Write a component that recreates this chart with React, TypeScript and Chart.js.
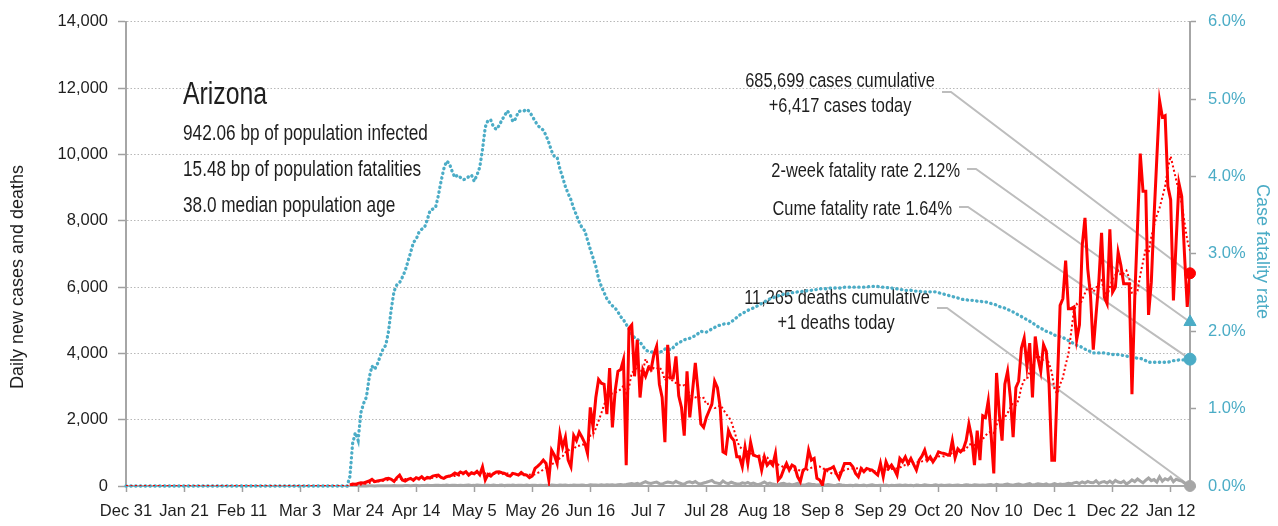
import React, { useEffect, useRef } from "react";
import { Chart, registerables } from "chart.js";

Chart.register(...registerables);

// Day numbering: day 0 = Dec 31, 2019
const TICK_LABELS = ["Dec 31", "Jan 21", "Feb 11", "Mar 3", "Mar 24", "Apr 14", "May 5", "May 26", "Jun 16", "Jul 7", "Jul 28", "Aug 18", "Sep 8", "Sep 29", "Oct 20", "Nov 10", "Dec 1", "Dec 22", "Jan 12"];
const TICK_STEP_DAYS = 21;
const FIRST_DAY = 0;
const LAST_DAY = 385;

const CASES_START_DAY = 81;
const DAILY_CASES = [
  30, 60, 50, 80, 100, 90, 120, 150, 200, 130,
  150, 170, 180, 220, 230, 200, 140, 250, 330, 180,
  150, 200, 230, 170, 250, 220, 280, 200, 260, 240,
  300, 320, 330, 260, 230, 280, 300, 330, 390, 350,
  420, 380, 430, 330, 400, 370, 440, 340, 580, 180,
  350, 300, 380, 420, 430, 400, 380, 320, 300, 380,
  360, 330, 410, 340, 330, 250, 300, 530, 600, 680,
  780, 680, 180, 1080, 930, 680, 1570, 1170, 1470, 780,
  580, 1520, 1370, 1620, 1470, 1300, 980, 2370, 1770, 2670,
  3210, 3100, 3070, 2170, 3560, 1770, 2870, 3460, 3510, 3810,
  630, 4760, 4860, 3310, 4410, 2670, 3510, 3310, 3560, 3510,
  3960, 4210, 3070, 2670, 1320, 4260, 3260, 3260, 3910, 2720,
  2370, 1520, 3460, 2070, 2870, 3710, 2870, 1870, 1770, 2070,
  2270, 2470, 3160, 2970, 2370, 1030, 980, 1670, 1470, 1370,
  880, 880, 580, 1170, 680, 1320, 930, 900, 880, 480,
  880, 630, 730, 630, 980, 180, 280, 500, 680, 480,
  630, 580, 280, 130, 480, 530, 1080, 780, 830, 230,
  180, 30, 480, 500, 530, 580, 380, 230, 450, 680,
  680, 680, 580, 380, 280, 530, 430, 530, 500, 480,
  400, 330, 680, 280, 730, 530, 630, 500, 330, 830,
  730, 880, 680, 830, 650, 480, 780, 900, 1080, 780,
  880, 730, 850, 1030, 1000, 980, 950, 930, 1370, 850,
  1120, 1030, 1120, 1370, 1870, 1470, 630, 1670, 780, 2120,
  2070, 2570, 1570, 380, 3410, 2170, 1370, 3070, 3460, 2670,
  1470, 2970, 3160, 4160, 4460, 3610, 4310, 2670, 4510, 3860,
  3460, 4260, 4060, 3070, 780, 780, 3070, 5450, 5650, 6800,
  5350, 5350, 5400, 4410, 4860, 7250, 8090, 6550, 5750, 4110,
  5160, 6150, 7640, 5700, 5500, 7740, 5850, 6000, 7050, 6650,
  6100, 6100, 6100, 2770, 5650, 7800, 10030, 8890, 8890, 5160,
  6150, 8140, 9900, 11620, 11130, 11170, 9040, 8640, 5600, 7400,
  9130, 8740, 7000, 5400, 6417,
];

const CASES_7DAY_AVG = [
  4, 13, 20, 31, 46, 59, 76, 93, 113, 124,
  134, 144, 157, 171, 183, 183, 184, 199, 221, 221,
  211, 207, 211, 216, 216, 200, 214, 221, 230, 231,
  250, 260, 276, 273, 277, 280, 289, 293, 303, 306,
  329, 350, 371, 376, 386, 383, 396, 384, 413, 377,
  380, 366, 367, 364, 377, 351, 380, 376, 376, 376,
  367, 353, 354, 349, 350, 343, 331, 356, 394, 433,
  496, 546, 536, 647, 704, 716, 843, 899, 1011, 1097,
  1026, 1110, 1209, 1216, 1259, 1234, 1263, 1519, 1554, 1740,
  1967, 2200, 2453, 2623, 2793, 2793, 2821, 2857, 2916, 3021,
  2801, 2973, 3414, 3477, 3613, 3493, 3450, 3833, 3661, 3469,
  3561, 3533, 3590, 3470, 3186, 3286, 3250, 3150, 3107, 3057,
  3014, 3043, 2929, 2759, 2703, 2674, 2696, 2624, 2660, 2461,
  2490, 2433, 2354, 2369, 2440, 2334, 2179, 2093, 1950, 1694,
  1396, 1183, 1119, 1146, 1004, 983, 920, 923, 923, 909,
  867, 860, 776, 733, 744, 644, 616, 561, 569, 533,
  533, 476, 490, 469, 466, 444, 530, 551, 587, 580,
  587, 523, 516, 433, 397, 361, 383, 390, 450, 479,
  504, 526, 526, 526, 533, 544, 509, 487, 461, 447,
  450, 457, 479, 457, 486, 490, 511, 526, 526, 547,
  611, 633, 654, 683, 704, 726, 719, 743, 771, 786,
  793, 804, 857, 893, 907, 893, 917, 924, 1016, 1016,
  1029, 1033, 1053, 1113, 1247, 1261, 1230, 1309, 1273, 1416,
  1516, 1616, 1630, 1594, 1843, 2041, 1934, 2077, 2204, 2361,
  2517, 2454, 2596, 2994, 3193, 3214, 3449, 3620, 3840, 3940,
  3840, 3811, 3876, 3699, 3429, 2896, 2783, 3067, 3266, 3657,
  3983, 4636, 5296, 5487, 5403, 5631, 5816, 5987, 6044, 5860,
  5967, 6151, 6207, 5866, 5716, 6000, 6249, 6369, 6497, 6356,
  6413, 6499, 6264, 5824, 5774, 5881, 6364, 6763, 7161, 7027,
  7510, 7866, 8166, 8393, 8713, 9039, 9593, 9949, 9586, 9229,
  8873, 8534, 7943, 7423, 7105,
];

const DEATHS_START_DAY = 84;
const DAILY_DEATHS = [
  2, 3, 4, 2, 5, 6, 3, 7, 8, 5,
  10, 6, 8, 12, 9, 7, 10, 12, 15, 9,
  14, 20, 11, 16, 18, 22, 13, 17, 25, 20,
  15, 19, 28, 14, 21, 24, 18, 26, 13, 22,
  30, 17, 19, 27, 23, 16, 20, 25, 14, 29,
  18, 22, 31, 12, 24, 19, 27, 15, 21, 26,
  18, 30, 16, 23, 20, 14, 25, 18, 22, 12,
  28, 25, 17, 30, 22, 27, 15, 19, 33, 26,
  24, 29, 21, 16, 35, 28, 31, 25, 38, 20,
  34, 29, 40, 26, 37, 45, 30, 44, 60, 72,
  55, 81, 48, 95, 130, 88, 76, 102, 117, 70,
  58, 93, 120, 105, 84, 140, 98, 67, 52, 110,
  125, 96, 135, 78, 61, 89, 113, 142, 170, 104,
  87, 66, 150, 92, 71, 118, 83, 64, 57, 95,
  74, 108, 62, 88, 53, 47, 79, 120, 66, 91,
  58, 43, 36, 70, 85, 49, 61, 33, 54, 77,
  42, 29, 38, 65, 50, 44, 27, 35, 58, 22,
  41, 30, 19, 26, 47, 33, 24, 18, 25, 12,
  31, 20, 15, 28, 9, 22, 34, 17, 13, 26,
  19, 30, 11, 24, 16, 21, 27, 14, 32, 18,
  23, 10, 29, 20, 15, 35, 25, 12, 22, 38,
  17, 28, 13, 24, 30, 19, 26, 33, 15, 21,
  40, 27, 18, 36, 29, 22, 31, 25, 38, 44,
  19, 52, 31, 27, 46, 58, 35, 22, 49, 61,
  40, 33, 55, 70, 28, 43, 64, 51, 37, 66,
  29, 48, 72, 39, 56, 45, 60, 80, 65, 95,
  110, 72, 125, 88, 140, 103, 96, 160, 75, 118,
  132, 90, 150, 84, 170, 121, 99, 145, 60, 112,
  185, 135, 210, 150, 98, 175, 240, 160, 195, 120,
  280, 145, 220, 180, 260, 130, 205, 170, 150, 90,
  40, 1,
];

const CFR_START_DAY = 81;
const CASE_FATALITY_RATE = [
  0.12, 0.55, 0.69, 0.59, 0.95, 1.07, 1.15, 1.40, 1.55, 1.51,
  1.58, 1.68, 1.77, 1.82, 2.00, 2.29, 2.52, 2.60, 2.63, 2.70,
  2.78, 2.90, 3.02, 3.15, 3.19, 3.28, 3.32, 3.34, 3.44, 3.56,
  3.58, 3.60, 3.75, 3.94, 4.10, 4.20, 4.17, 4.07, 3.99, 4.02,
  3.99, 3.96, 3.97, 4.00, 4.02, 3.94, 4.02, 4.12, 4.35, 4.64,
  4.73, 4.73, 4.64, 4.61, 4.66, 4.73, 4.79, 4.85, 4.80, 4.71,
  4.75, 4.84, 4.85, 4.85, 4.87, 4.84, 4.78, 4.72, 4.66, 4.63,
  4.60, 4.53, 4.44, 4.33, 4.26, 4.25, 4.10, 3.99, 3.87, 3.78,
  3.70, 3.59, 3.50, 3.41, 3.34, 3.30, 3.18, 3.06, 2.95, 2.84,
  2.68, 2.58, 2.50, 2.42, 2.37, 2.33, 2.30, 2.25, 2.19, 2.15,
  2.09, 2.03, 1.96, 1.92, 1.90, 1.86, 1.81, 1.76, 1.74, 1.73,
  1.74, 1.74, 1.73, 1.74, 1.77, 1.78, 1.76, 1.79, 1.83, 1.85,
  1.87, 1.89, 1.90, 1.91, 1.93, 1.94, 1.97, 2.00, 1.99, 1.99,
  2.01, 2.03, 2.05, 2.07, 2.08, 2.09, 2.10, 2.10, 2.12, 2.15,
  2.18, 2.21, 2.23, 2.25, 2.27, 2.29, 2.30, 2.32, 2.34, 2.36,
  2.38, 2.40, 2.42, 2.43, 2.45, 2.46, 2.47, 2.48, 2.48, 2.49,
  2.50, 2.50, 2.51, 2.51, 2.52, 2.52, 2.53, 2.53, 2.54, 2.54,
  2.55, 2.55, 2.55, 2.55, 2.56, 2.56, 2.56, 2.56, 2.56, 2.57,
  2.57, 2.57, 2.57, 2.57, 2.57, 2.57, 2.57, 2.57, 2.58, 2.58,
  2.58, 2.58, 2.57, 2.57, 2.57, 2.56, 2.56, 2.55, 2.55, 2.54,
  2.54, 2.53, 2.53, 2.53, 2.52, 2.52, 2.52, 2.51, 2.51, 2.51,
  2.51, 2.51, 2.51, 2.50, 2.49, 2.48, 2.47, 2.46, 2.45, 2.44,
  2.43, 2.42, 2.41, 2.41, 2.40, 2.40, 2.40, 2.39, 2.39, 2.38,
  2.38, 2.37, 2.36, 2.35, 2.34, 2.32, 2.31, 2.30, 2.28, 2.27,
  2.25, 2.23, 2.21, 2.19, 2.17, 2.15, 2.13, 2.11, 2.08, 2.06,
  2.04, 2.02, 2.00, 1.99, 1.97, 1.95, 1.94, 1.93, 1.92, 1.90,
  1.88, 1.86, 1.84, 1.82, 1.81, 1.79, 1.77, 1.75, 1.74, 1.72,
  1.72, 1.72, 1.72, 1.72, 1.71, 1.71, 1.70, 1.70, 1.70, 1.69,
  1.69, 1.68, 1.67, 1.66, 1.66, 1.65, 1.65, 1.64, 1.62, 1.60,
  1.60, 1.60, 1.60, 1.60, 1.60, 1.60, 1.60, 1.61, 1.62, 1.62,
  1.63, 1.63, 1.63, 1.64, 1.64,
];

const PRE_OUTBREAK_VALUE = 0;

const STATE_NAME = "Arizona";
const INFECTED_BP = "942.06";
const FATALITIES_BP = "15.48";
const MEDIAN_AGE = "38.0";
const CUMULATIVE_CASES = 685699;
const CASES_TODAY = 6417;
const CUMULATIVE_DEATHS = 11265;
const DEATHS_TODAY = 1;
const TWO_WEEK_CFR = 2.12;
const CUME_CFR = 1.64;

const LEFT_MAX = 14000;
const LEFT_STEP = 2000;
const RIGHT_MAX = 6;
const RIGHT_STEP = 1;

const RED = "#ff0000";
const TEAL = "#4bacc6";
const GRAY = "#a6a6a6";
const TEXT = "#1e1e1e";
const REGULAR = "'Liberation Sans', Arial, sans-serif";
const CONDENSE = 0.8;

const fmt = (n: number) => n.toLocaleString("en-US");

const toPoints = (start: number, arr: number[]) => arr.map((v, i) => ({ x: start + i, y: v }));

const overlayPlugin = {
  id: "overlay",
  beforeDatasetsDraw(chart: any) {
    const { ctx, scales } = chart;
    const xs = scales.x;
    const ys = scales.y;
    const y1 = scales.y1;
    const ex = xs.getPixelForValue(LAST_DAY);
    ctx.save();
    // leader lines
    ctx.strokeStyle = "#bdbdbd";
    ctx.lineWidth = 2;
    const leader = (sx: number, sy: number, hx: number, tx: number, ty: number) => {
      ctx.beginPath();
      ctx.moveTo(sx, sy);
      ctx.lineTo(hx, sy);
      ctx.lineTo(tx, ty);
      ctx.stroke();
    };
    leader(942, 92, 951, ex, ys.getPixelForValue(CASES_TODAY));
    leader(967, 169, 976, ex, y1.getPixelForValue(TWO_WEEK_CFR));
    leader(959, 207, 968, ex, y1.getPixelForValue(CUME_CFR));
    leader(937, 308, 947, ex, ys.getPixelForValue(DEATHS_TODAY));

    // condensed text helper
    const text = (s: string, x: number, y: number, size: number, align: string) => {
      ctx.save();
      ctx.translate(x, y);
      ctx.scale(CONDENSE, 1);
      ctx.font = `${size}px ${REGULAR}`;
      ctx.textAlign = align;
      ctx.textBaseline = "alphabetic";
      ctx.fillStyle = TEXT;
      ctx.fillText(s, 0, 0);
      ctx.restore();
    };

    // info block
    text(STATE_NAME, 183, 104, 31, "left");
    text(`${INFECTED_BP} bp of population infected`, 183, 139.5, 21.5, "left");
    text(`${FATALITIES_BP} bp of population fatalities`, 183, 175.5, 21.5, "left");
    text(`${MEDIAN_AGE} median population age`, 183, 211.5, 21.5, "left");

    // annotations
    text(`${fmt(CUMULATIVE_CASES)} cases cumulative`, 840, 87, 20.5, "center");
    text(`+${fmt(CASES_TODAY)} cases today`, 840, 112, 20.5, "center");
    text(`${fmt(CUMULATIVE_DEATHS)} deaths cumulative`, 837, 304, 20.5, "center");
    text(`+${fmt(DEATHS_TODAY)} deaths today`, 836, 328.5, 20.5, "center");
    text(`2-week fatality rate ${TWO_WEEK_CFR.toFixed(2)}%`, 960, 177, 20.5, "right");
    text(`Cume fatality rate ${CUME_CFR.toFixed(2)}%`, 952, 215, 20.5, "right");

    // axis titles
    ctx.textAlign = "center";
    ctx.textBaseline = "middle";
    ctx.font = `18px ${REGULAR}`;
    ctx.save();
    ctx.translate(18, 277);
    ctx.rotate(-Math.PI / 2);
    ctx.fillStyle = TEXT;
    ctx.fillText("Daily new cases and deaths", 0, 0);
    ctx.restore();
    ctx.save();
    ctx.translate(1262, 251.5);
    ctx.rotate(Math.PI / 2);
    ctx.fillStyle = TEAL;
    ctx.fillText("Case fatality rate", 0, 0);
    ctx.restore();
    ctx.restore();
  },
};

export default function App() {
  const ref = useRef<HTMLCanvasElement | null>(null);
  useEffect(() => {
    if (!ref.current) return;
    const tickFont = { family: REGULAR, size: 16.5 };
    const chart = new Chart(ref.current, {
      type: "line",
      data: {
        datasets: [
          {
            label: "Cases today",
            data: [{ x: LAST_DAY, y: CASES_TODAY }],
            yAxisID: "y",
            showLine: false,
            pointRadius: 5.5,
            pointBackgroundColor: RED,
            pointBorderColor: RED,
            clip: false,
          },
          {
            label: "2-week fatality rate",
            data: [{ x: LAST_DAY, y: TWO_WEEK_CFR }],
            yAxisID: "y1",
            showLine: false,
            pointStyle: "triangle",
            pointRadius: 7,
            pointBackgroundColor: TEAL,
            pointBorderColor: TEAL,
            clip: false,
          },
          {
            label: "Cume fatality rate",
            data: [{ x: LAST_DAY, y: CUME_CFR }],
            yAxisID: "y1",
            showLine: false,
            pointRadius: 6,
            pointBackgroundColor: TEAL,
            pointBorderColor: TEAL,
            clip: false,
          },
          {
            label: "Deaths today",
            data: [{ x: LAST_DAY, y: DEATHS_TODAY }],
            yAxisID: "y",
            showLine: false,
            pointRadius: 5.5,
            pointBackgroundColor: GRAY,
            pointBorderColor: GRAY,
            clip: false,
          },
          {
            label: "Daily new cases",
            data: toPoints(CASES_START_DAY, DAILY_CASES),
            yAxisID: "y",
            borderColor: RED,
            borderWidth: 3,
            pointRadius: 0,
            tension: 0,
          },
          {
            label: "Cases 7-day average",
            data: [{ x: FIRST_DAY, y: PRE_OUTBREAK_VALUE }, { x: CASES_START_DAY - 1, y: PRE_OUTBREAK_VALUE }, ...toPoints(CASES_START_DAY, CASES_7DAY_AVG)],
            yAxisID: "y",
            borderColor: RED,
            borderWidth: 2,
            borderDash: [2, 2.5],
            pointRadius: 0,
          },
          {
            label: "Daily deaths",
            data: toPoints(DEATHS_START_DAY, DAILY_DEATHS),
            yAxisID: "y",
            borderColor: GRAY,
            borderWidth: 3,
            pointRadius: 0,
            clip: false,
          },
          {
            label: "Case fatality rate",
            data: [{ x: FIRST_DAY, y: PRE_OUTBREAK_VALUE }, { x: CFR_START_DAY - 1, y: PRE_OUTBREAK_VALUE }, ...toPoints(CFR_START_DAY, CASE_FATALITY_RATE)],
            yAxisID: "y1",
            borderColor: TEAL,
            borderWidth: 3.3,
            borderDash: [0.4, 4.4],
            borderCapStyle: "round",
            pointRadius: 0,
            clip: false,
          },
        ],
      },
      options: {
        animation: false,
        responsive: false,
        layout: { padding: { top: 17, left: 0, right: 0, bottom: 0 } },
        plugins: { legend: { display: false }, tooltip: { enabled: false } },
        scales: {
          x: {
            type: "linear",
            min: FIRST_DAY,
            max: LAST_DAY,
            afterBuildTicks: (scale: any) => {
              scale.ticks = TICK_LABELS.map((_, i) => ({ value: FIRST_DAY + i * TICK_STEP_DAYS }));
            },
            afterFit: (scale: any) => {
              scale.height = 40;
            },
            ticks: {
              autoSkip: false,
              maxRotation: 0,
              padding: 10,
              color: TEXT,
              font: tickFont,
              callback: (v: any) => {
                const i = Math.round((Number(v) - FIRST_DAY) / TICK_STEP_DAYS);
                return TICK_LABELS[i] ?? "";
              },
            },
            grid: { drawOnChartArea: false, tickLength: 6, tickColor: "#a0a0a0", tickWidth: 1.5 },
            border: { color: "#a6a6a6", width: 2 },
          },
          y: {
            position: "left",
            min: 0,
            max: LEFT_MAX,
            afterFit: (scale: any) => {
              scale.width = 126;
            },
            ticks: {
              stepSize: LEFT_STEP,
              padding: 10,
              color: TEXT,
              font: tickFont,
              callback: (v: any) => fmt(Number(v)),
            },
            grid: { color: "#b8b8b8", lineWidth: 1, tickLength: 8, tickColor: "#a0a0a0", tickWidth: 1.5 },
            border: { color: "#a6a6a6", width: 2, dash: [1.5, 2] },
          },
          y1: {
            position: "right",
            min: 0,
            max: RIGHT_MAX,
            afterFit: (scale: any) => {
              scale.width = 88;
            },
            ticks: {
              stepSize: RIGHT_STEP,
              padding: 12,
              color: TEAL,
              font: tickFont,
              callback: (v: any) => `${Number(v).toFixed(1)}%`,
            },
            grid: { drawOnChartArea: false, tickLength: 6, tickColor: "#a0a0a0", tickWidth: 1.5 },
            border: { color: "#a6a6a6", width: 2 },
          },
        },
      },
      plugins: [overlayPlugin],
    } as any);
    return () => chart.destroy();
  }, []);
  return (
    <div style={{ position: "fixed", left: 0, top: 0, width: 1278, height: 526, background: "#fff" }}>
      <canvas ref={ref} width={1278} height={526} style={{ display: "block" }} />
    </div>
  );
}
